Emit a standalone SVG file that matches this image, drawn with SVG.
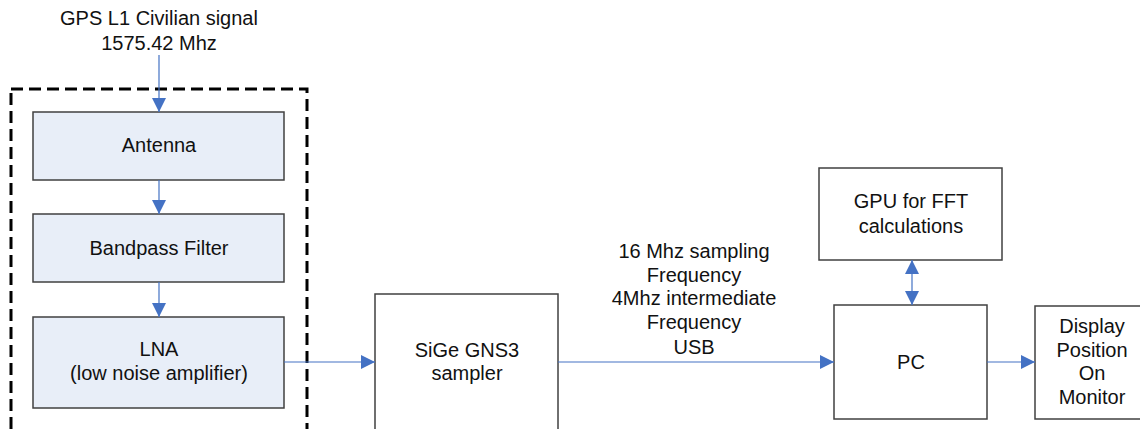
<svg xmlns="http://www.w3.org/2000/svg" width="1140" height="429" viewBox="0 0 1140 429">
<style>
text{font-family:"Liberation Sans",Arial,sans-serif;font-size:20px;fill:#111;text-anchor:middle}
.b{fill:#e8eef8;stroke:#404040;stroke-width:1.5}
.w{fill:#fff;stroke:#404040;stroke-width:1.5}
.c{stroke:#4472c4;stroke-width:1.2;fill:none}
</style>
<defs>
<marker id="ah" viewBox="0 0 14 14" refX="14" refY="7" markerWidth="14" markerHeight="14" markerUnits="userSpaceOnUse" orient="auto-start-reverse">
<path d="M0,0 L14,7 L0,14 Z" fill="#4472c4"/>
</marker>
</defs>
<rect width="1140" height="429" fill="#fff"/>
<rect id="group" x="11" y="89" width="296" height="360" fill="none" stroke="#000" stroke-width="3" stroke-dasharray="12,6"/>
<text x="159" y="25">GPS L1 Civilian signal</text>
<text x="159" y="50">1575.42 Mhz</text>
<g id="antenna"><rect class="b" x="33" y="112" width="251" height="68"/><text x="159" y="152">Antenna</text></g>
<g id="bandpass"><rect class="b" x="33" y="214" width="251" height="68"/><text x="159" y="255">Bandpass Filter</text></g>
<g id="lna"><rect class="b" x="33" y="317" width="251" height="91"/><text x="159" y="356">LNA</text><text x="159" y="380">(low noise amplifier)</text></g>
<g id="sige"><rect class="w" x="375" y="294" width="183" height="150"/><text x="467" y="357">SiGe GNS3</text><text x="467" y="380">sampler</text></g>
<g id="gpu"><rect class="w" x="819" y="168" width="183" height="92"/><text x="911" y="208">GPU for FFT</text><text x="911" y="233">calculations</text></g>
<g id="pc"><rect class="w" x="834" y="305" width="153" height="114"/><text x="911" y="369">PC</text></g>
<g id="display"><rect class="w" x="1035" y="306" width="120" height="113"/><text x="1092" y="333">Display</text><text x="1092" y="357">Position</text><text x="1092" y="380">On</text><text x="1092" y="404">Monitor</text></g>
<g id="connectors">
<line class="c" x1="159" y1="55" x2="159" y2="112" marker-end="url(#ah)"/>
<line class="c" x1="159" y1="180" x2="159" y2="214" marker-end="url(#ah)"/>
<line class="c" x1="159" y1="282" x2="159" y2="317" marker-end="url(#ah)"/>
<line class="c" x1="284" y1="362" x2="375" y2="362" marker-end="url(#ah)"/>
<line class="c" x1="558" y1="362" x2="834" y2="362" marker-end="url(#ah)"/>
<line class="c" x1="912" y1="260" x2="912" y2="305" marker-start="url(#ah)" marker-end="url(#ah)"/>
<line class="c" x1="987" y1="362" x2="1035" y2="362" marker-end="url(#ah)"/>
<text x="694" y="258">16 Mhz sampling</text>
<text x="694" y="282">Frequency</text>
<text x="694" y="305">4Mhz intermediate</text>
<text x="694" y="329">Frequency</text>
<text x="694" y="354">USB</text>
</g>
</svg>
